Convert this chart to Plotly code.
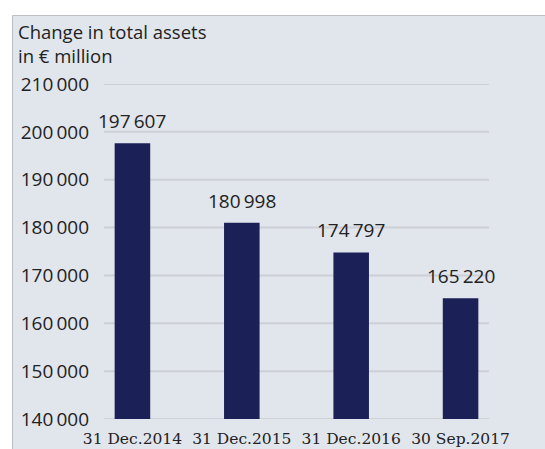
import plotly.graph_objects as go

categories = ["31 Dec.2014", "31 Dec.2015", "31 Dec.2016", "30 Sep.2017"]
values = [197607, 180998, 174797, 165220]
tick_vals = [140000, 150000, 160000, 170000, 180000, 190000, 200000, 210000]
title_lines = ["Change in total assets", "in € million"]

def fmt(v):
    return f"{v:,}".replace(",", "\u2009")

tick_text = [fmt(v) for v in tick_vals]
labels = [fmt(v) for v in values]

W, H = 545, 449
L, R, T, B = 104, 56, 84, 30
pw, ph = W - L - R, H - T - B

def px(x):
    return (x - L) / pw

def py(y):
    return (H - B - y) / ph

SANS = "'Open Sans', sans-serif"
SERIF = "'DejaVu Serif', serif"
TXT = "#222222"
GRID = "#cdd0d6"

fig = go.Figure(go.Bar(
    x=list(range(len(categories))), y=values,
    width=0.325, marker=dict(color="#1b2157", line=dict(width=0)),
))

annotations = [dict(
    x=i, y=v, xref="x", yref="y", text=t, showarrow=False,
    xanchor="center", yanchor="bottom", yshift=7,
    font=dict(family=SANS, size=19, color=TXT),
) for i, (v, t) in enumerate(zip(values, labels))]

annotations.append(dict(
    xref="paper", yref="paper", x=px(16), y=py(17),
    xanchor="left", yanchor="top", align="left", showarrow=False,
    text="<br>".join(title_lines),
    font=dict(family=SANS, size=18.5, color=TXT),
))

shapes = [dict(
    type="rect", xref="paper", yref="paper", layer="below",
    x0=px(12.5), x1=px(560), y0=py(470), y1=py(15.5),
    fillcolor="#e1e5ec", line=dict(color="#bdbfc3", width=1),
)]
shapes += [dict(
    type="line", xref="paper", yref="y", layer="below",
    x0=0, x1=1, y0=v, y1=v, line=dict(color=GRID, width=2),
) for v in tick_vals]

fig.update_layout(
    width=W, height=H, margin=dict(l=L, r=R, t=T, b=B),
    paper_bgcolor="white", plot_bgcolor="rgba(0,0,0,0)",
    showlegend=False,
    xaxis=dict(
        tickvals=list(range(len(categories))), ticktext=categories,
        range=[-0.26, 3.26], showgrid=False, zeroline=False, showline=False,
        tickfont=dict(family=SERIF, size=15.5, color=TXT), ticklabelstandoff=8,
        automargin=False,
    ),
    yaxis=dict(
        range=[140000, 210000], tickvals=tick_vals, ticktext=tick_text,
        showgrid=False, zeroline=False,
        showline=False, tickfont=dict(family=SANS, size=19, color=TXT),
        ticklabelstandoff=14, automargin=False,
    ),
    shapes=shapes,
    annotations=annotations,
)

fig.write_html("out.html")
